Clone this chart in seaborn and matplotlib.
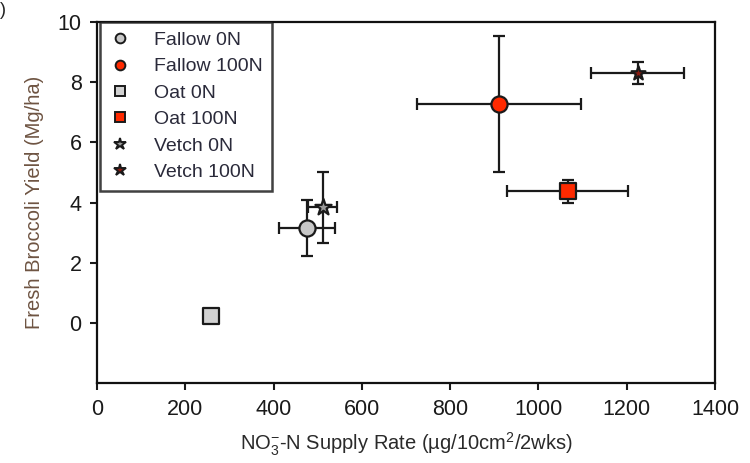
import matplotlib
matplotlib.use("Agg")
import matplotlib.pyplot as plt
import seaborn as sns
import pandas as pd
from matplotlib.lines import Line2D

# ---- data ----
treatments = ["Fallow 0N", "Fallow 100N", "Oat 0N", "Oat 100N", "Vetch 0N", "Vetch 100N"]
supply_rate = [476, 910, 258, 1066, 511, 1225]
supply_err = [63, 186, 8, 138, 33, 105]
yield_mg = [3.15, 7.27, 0.25, 4.38, 3.84, 8.30]
yield_err = [0.92, 2.25, 0.10, 0.38, 1.18, 0.38]
x_ticks = [0, 200, 400, 600, 800, 1000, 1200, 1400]
y_ticks = [0, 2, 4, 6, 8, 10]

fill_colors = ["#c8c8c8", "#ff2a00", "#d2d2d2", "#ff2a00", "#9a9a9a", "#8a1a10"]
markers = ["o", "o", "s", "s", "*", "*"]
sizes = [135, 135, 125, 125, 150, 110]

df = pd.DataFrame({"Treatment": treatments, "x": supply_rate, "y": yield_mg,
                   "xerr": supply_err, "yerr": yield_err})

sns.set_theme(style="white")
plt.rcParams["font.family"] = ["Liberation Sans", "DejaVu Sans"]
plt.rcParams["mathtext.fontset"] = "custom"
plt.rcParams["mathtext.rm"] = "Liberation Sans"
plt.rcParams["mathtext.it"] = "Liberation Sans"

fig = plt.figure(figsize=(7.5, 4.63), dpi=100)
ax = fig.add_axes([0.1293, 0.172, 0.824, 0.781])

ax.errorbar(df["x"], df["y"], xerr=df["xerr"], yerr=df["yerr"], fmt="none",
            ecolor="#1a1a1a", elinewidth=1.6, capsize=4.5, capthick=1.6, zorder=2)

for i, t in enumerate(treatments):
    sns.scatterplot(data=df[df["Treatment"] == t], x="x", y="y", marker=markers[i],
                    color=fill_colors[i], s=sizes[i], edgecolor="#1a1a1a",
                    linewidth=1.6, ax=ax, zorder=3, legend=False)

ax.set_xlim(0, 1400)
ax.set_ylim(-2, 10)
ax.set_xticks(x_ticks)
ax.set_yticks(y_ticks)
ax.tick_params(axis="both", which="both", direction="out", length=5, width=1.5,
               labelsize=15.5, colors="#1a1a1a", bottom=True, left=True, pad=6)
for s in ax.spines.values():
    s.set_color("#111111")
    s.set_linewidth(1.6)

ax.set_xlabel(r"NO$_3^{-}$-N Supply Rate (µg/10cm$^2$/2wks)", fontsize=14.5,
              color="#2a2a2a", labelpad=8)
ax.set_ylabel("Fresh Broccoli Yield (Mg/ha)", fontsize=14.5, color="#6e5442", labelpad=10)

handles = [Line2D([], [], linestyle="none", marker=markers[i], markerfacecolor=fill_colors[i],
                  markeredgecolor="#1a1a1a", markeredgewidth=1.4,
                  markersize=7 if markers[i] != "*" else 9, label=treatments[i])
           for i in range(len(treatments))]
leg = ax.legend(handles=handles, loc="upper left", bbox_to_anchor=(0.005, 1.0),
                frameon=True, fancybox=False, edgecolor="#111111", fontsize=14,
                borderpad=0.5, labelspacing=0.45, handletextpad=1.25,
                borderaxespad=0.0, handlelength=1.0)
leg.get_frame().set_linewidth(1.8)
for txt in leg.get_texts():
    txt.set_color("#2a2a3a")

fig.text(0.0, 0.995, ")", fontsize=13, ha="left", va="top", color="#222222")

fig.savefig("out.png", dpi=100)
